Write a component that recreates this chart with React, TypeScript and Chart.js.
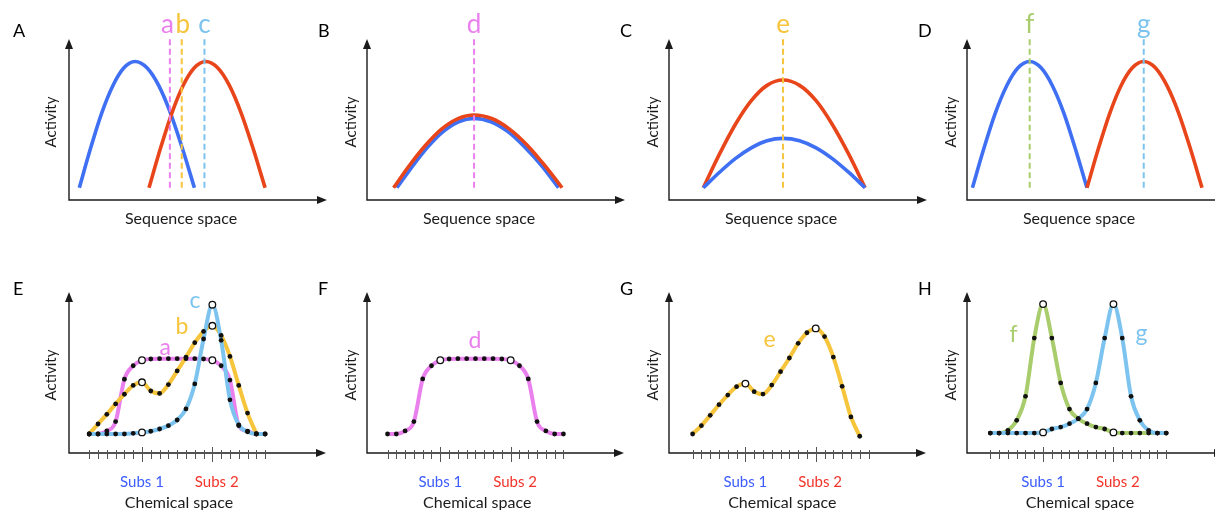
import React, { useEffect, useRef } from 'react';
import Chart from 'chart.js/auto';

const FONT = 'Lato, "Open Sans", "DejaVu Sans", sans-serif';
const INK = '#1b1b1b';

const BLUE = '#3f6ff2';
const RED = '#e8451a';
const PINK = '#ea80ee';
const GOLD = '#f6c53c';
const SKY = '#7cc4ef';
const LIME = '#a9cd6c';
const SUBS1 = '#3c5cff';
const SUBS2 = '#f2342b';

// ---- Sequence space (top row): x 0-100 along the axis, y 0-100 up the axis ----
const archTall = [7.6, 31.8, 53.7, 71.0, 82.1, 86.0, 82.1, 71.0, 53.7, 31.8, 7.6];

const seqA_blueX = [4.0, 8.3, 12.6, 17.0, 21.3, 25.6, 30.2, 34.8, 39.4, 44.0, 48.6];
const seqA_redX = [31.0, 35.4, 39.8, 44.2, 48.6, 53.0, 57.6, 62.2, 66.8, 71.4, 76.0];
const seqA_marks = [39.1, 43.7, 52.5];

const seqB_blueX = [11.6, 17.6, 23.6, 29.5, 35.5, 41.5, 48.0, 54.6, 61.1, 67.9, 74.2];
const seqB_blueY = [7.6, 20.9, 33.0, 42.5, 48.6, 50.7, 48.6, 42.5, 33.0, 20.9, 7.6];
const seqB_redX = [10.3, 16.5, 22.8, 29.0, 35.3, 41.5, 48.3, 55.1, 62.0, 68.8, 75.6];
const seqB_redY = [7.6, 21.6, 34.2, 44.2, 50.6, 52.8, 50.6, 44.2, 34.2, 21.6, 7.6];
const seqB_marks = [41.5];

const seqC_x = [13.3, 19.5, 25.7, 31.9, 38.0, 44.2, 50.6, 57.0, 63.3, 69.7, 76.0];
const seqC_redY = [7.6, 28.3, 46.9, 61.7, 71.2, 74.5, 71.2, 61.7, 46.9, 28.3, 7.6];
const seqC_blueY = [7.6, 17.1, 25.7, 32.4, 36.8, 38.3, 36.8, 32.4, 25.7, 17.1, 7.6];
const seqC_marks = [44.2];

const seqD_blueX = [2.1, 6.5, 10.9, 15.4, 19.8, 24.3, 28.7, 33.1, 37.6, 42.0, 46.5];
const seqD_redX = [46.5, 50.9, 55.3, 59.7, 64.1, 68.5, 73.0, 77.5, 82.1, 86.6, 91.1];
const seqD_marks = [24.3, 68.5];

const markSpan = [7.6, 100];

// ---- Chemical space (bottom row): activity on 21 sampled substrates ----
const substrates = [0, 1, 2, 3, 4, 5, 6, 7, 8, 9, 10, 11, 12, 13, 14, 15, 16, 17, 18, 19, 20];
const substrateAt = [6, 14];
const substrateNames = ['Subs 1', 'Subs 2'];

const chemE_a = [11.8, 11.8, 13.7, 19.5, 45.8, 54.2, 57.6, 58.4, 58.6, 58.6, 58.6, 58.6, 58.6, 58.4, 57.6, 54.2, 45.3, 17.0, 13.5, 11.8, 11.8];
const chemE_b = [11.8, 18.0, 24.0, 30.5, 36.5, 42.0, 43.9, 38.5, 37.0, 42.5, 51.0, 59.5, 68.5, 75.5, 79.0, 73.0, 60.0, 42.0, 24.8, 12.0];
const chemE_c = [11.8, 11.8, 11.8, 11.8, 11.8, 12.2, 12.8, 13.5, 14.9, 17.0, 20.5, 27.4, 42.9, 70.8, 92.1, 70.0, 33.0, 17.5, 13.2, 11.8, 11.8];
const chemF_d = [11.8, 11.8, 13.7, 19.5, 46.0, 54.2, 57.6, 58.4, 58.6, 58.6, 58.6, 58.6, 58.6, 58.4, 57.6, 54.2, 46.0, 19.5, 13.7, 11.8, 11.8];
const chemG_e = [11.8, 17.0, 23.4, 30.0, 36.0, 41.2, 43.1, 38.1, 36.6, 42.2, 50.5, 59.0, 68.1, 74.7, 77.4, 72.3, 59.6, 41.4, 22.4, 10.4];
const chemH_f = [12.4, 12.4, 14.1, 20.3, 35.2, 71.4, 92.5, 71.4, 43.5, 27.3, 21.3, 18.2, 16.1, 14.9, 12.8, 12.4, 12.4, 12.4, 12.4, 12.4, 12.4];
const chemH_g = [12.4, 12.4, 12.4, 12.4, 12.4, 12.4, 12.8, 14.9, 16.1, 18.2, 21.3, 27.3, 43.5, 71.4, 92.5, 71.4, 35.2, 20.3, 14.1, 12.4, 12.4];

type Curve = { x?: number[]; y: number[]; color: string };
type Mark = { x: number; name: string; color: string; dx?: number };
type Tag = { x: number; y: number; name: string; color: string };
type Panel = {
    letter: string;
    col: number;
    row: number;
    xMin: number;
    xMax: number;
    curves: Curve[];
    marks: Mark[];
    tags: Tag[];
};

// layout (pixels)
const AXIS_X = [69, 367, 669, 967];
const AXIS_LEN = 258;
const CANVAS_W = 330;
const ROW_TOP = [0, 253];
const ROW_H = [253, 257];
const PAD_TOP = 39;
const TICK_STEP = 8.83;

const chemRange = (firstTickOffset: number) => {
    const min = -firstTickOffset / TICK_STEP;
    return { xMin: min, xMax: min + AXIS_LEN / TICK_STEP };
};

const panels: Panel[] = [
    {
        letter: 'A', col: 0, row: 0, xMin: 0, xMax: 100,
        curves: [
            { x: seqA_blueX, y: archTall, color: BLUE },
            { x: seqA_redX, y: archTall, color: RED },
        ],
        marks: [
            { x: seqA_marks[0], name: 'a', color: PINK, dx: -2.5 },
            { x: seqA_marks[1], name: 'b', color: GOLD, dx: 1 },
            { x: seqA_marks[2], name: 'c', color: SKY },
        ],
        tags: [],
    },
    {
        letter: 'B', col: 1, row: 0, xMin: 0, xMax: 100,
        curves: [
            { x: seqB_blueX, y: seqB_blueY, color: BLUE },
            { x: seqB_redX, y: seqB_redY, color: RED },
        ],
        marks: [{ x: seqB_marks[0], name: 'd', color: PINK }],
        tags: [],
    },
    {
        letter: 'C', col: 2, row: 0, xMin: 0, xMax: 100,
        curves: [
            { x: seqC_x, y: seqC_redY, color: RED },
            { x: seqC_x, y: seqC_blueY, color: BLUE },
        ],
        marks: [{ x: seqC_marks[0], name: 'e', color: GOLD }],
        tags: [],
    },
    {
        letter: 'D', col: 3, row: 0, xMin: 0, xMax: 100,
        curves: [
            { x: seqD_blueX, y: archTall, color: BLUE },
            { x: seqD_redX, y: archTall, color: RED },
        ],
        marks: [
            { x: seqD_marks[0], name: 'f', color: LIME },
            { x: seqD_marks[1], name: 'g', color: SKY },
        ],
        tags: [],
    },
    {
        letter: 'E', col: 0, row: 1, ...chemRange(20.3),
        curves: [
            { y: chemE_a, color: PINK },
            { y: chemE_b, color: GOLD },
            { y: chemE_c, color: SKY },
        ],
        marks: [],
        tags: [
            { x: 8.63, y: 60.8, name: 'a', color: PINK },
            { x: 10.55, y: 74.1, name: 'b', color: GOLD },
            { x: 12.02, y: 90.0, name: 'c', color: SKY },
        ],
    },
    {
        letter: 'F', col: 1, row: 1, ...chemRange(20.6),
        curves: [{ y: chemF_d, color: PINK }],
        marks: [],
        tags: [{ x: 9.93, y: 65.2, name: 'd', color: PINK }],
    },
    {
        letter: 'G', col: 2, row: 1, ...chemRange(23.7),
        curves: [{ y: chemG_e, color: GOLD }],
        marks: [],
        tags: [{ x: 8.75, y: 65.6, name: 'e', color: GOLD }],
    },
    {
        letter: 'H', col: 3, row: 1, ...chemRange(23.4),
        curves: [
            { y: chemH_f, color: LIME },
            { y: chemH_g, color: SKY },
        ],
        marks: [],
        tags: [
            { x: 2.64, y: 69.1, name: 'f', color: LIME },
            { x: 17.2, y: 69.7, name: 'g', color: SKY },
        ],
    },
];

const isOpen = (i: number) => substrateAt.includes(i);

const buildDatasets = (p: Panel) => {
    const ds: any[] = [];
    p.curves.forEach((c, k) => {
        const pts = c.y.map((y, i) => ({ x: c.x ? c.x[i] : substrates[i], y }));
        ds.push({
            data: pts,
            borderColor: c.color,
            borderWidth: p.row === 0 ? 3.6 : 4,
            pointRadius: 0,
            cubicInterpolationMode: 'monotone',
            fill: false,
            order: 20 - k,
        });
        if (p.row === 1) {
            ds.push({
                data: pts,
                showLine: false,
                pointRadius: (ctx: any) => (isOpen(ctx.dataIndex) ? 3.3 : 2.4),
                pointBackgroundColor: (ctx: any) => (isOpen(ctx.dataIndex) ? '#ffffff' : '#111111'),
                pointBorderColor: '#111111',
                pointBorderWidth: (ctx: any) => (isOpen(ctx.dataIndex) ? 1.3 : 0),
                order: 0,
            });
        }
    });
    p.marks.forEach(m => {
        ds.push({
            data: [{ x: m.x, y: markSpan[0] }, { x: m.x, y: markSpan[1] }],
            borderColor: m.color,
            borderWidth: 2,
            borderDash: [6, 3.5],
            pointRadius: 0,
            order: 1,
        });
    });
    return ds;
};

const decorPlugin = (p: Panel) => ({
    id: 'decor',
    beforeDatasetsDraw(chart: any) {
        const { ctx, chartArea: a, scales } = chart;
        ctx.save();
        ctx.strokeStyle = INK;
        ctx.fillStyle = INK;
        ctx.lineWidth = 1.4;
        ctx.beginPath();
        ctx.moveTo(a.left, a.top + 8);
        ctx.lineTo(a.left, a.bottom);
        ctx.lineTo(a.right - 8, a.bottom);
        ctx.stroke();
        ctx.beginPath();
        ctx.moveTo(a.left, a.top);
        ctx.lineTo(a.left - 4, a.top + 10);
        ctx.lineTo(a.left + 4, a.top + 10);
        ctx.closePath();
        ctx.fill();
        ctx.beginPath();
        ctx.moveTo(a.right, a.bottom);
        ctx.lineTo(a.right - 10, a.bottom - 4);
        ctx.lineTo(a.right - 10, a.bottom + 4);
        ctx.closePath();
        ctx.fill();

        if (p.row === 1) {
            ctx.strokeStyle = '#555555';
            ctx.lineWidth = 1;
            substrates.forEach(i => {
                const px = Math.round(scales.x.getPixelForValue(i)) + 0.5;
                const major = isOpen(i);
                ctx.beginPath();
                ctx.moveTo(px, a.bottom - (major ? 6 : 3));
                ctx.lineTo(px, a.bottom + (major ? 9 : 6));
                ctx.stroke();
            });
        }
        ctx.restore();
    },
    afterDatasetsDraw(chart: any) {
        const { ctx, chartArea: a, scales } = chart;
        ctx.save();
        ctx.fillStyle = '#000000';
        ctx.textAlign = 'left';
        ctx.textBaseline = 'alphabetic';
        ctx.font = `18px ${FONT}`;
        ctx.fillText(p.letter, a.left - (p.col === 0 ? 56 : 49), p.row === 0 ? a.top - 2 : a.top + 3);

        // axis titles
        ctx.fillStyle = INK;
        ctx.font = `16px ${FONT}`;
        ctx.textAlign = 'center';
        if (p.row === 0) {
            ctx.fillText('Sequence space', a.left + 112, a.bottom + 24);
        } else {
            ctx.fillText('Chemical space', scales.x.getPixelForValue(10.2), a.bottom + 55);
            ctx.font = `15px ${FONT}`;
            ctx.fillStyle = SUBS1;
            ctx.fillText(substrateNames[0], scales.x.getPixelForValue(substrateAt[0]), a.bottom + 34);
            ctx.fillStyle = SUBS2;
            ctx.fillText(substrateNames[1], scales.x.getPixelForValue(substrateAt[1] + 0.5), a.bottom + 34);
        }
        ctx.save();
        ctx.fillStyle = INK;
        ctx.font = `15px ${FONT}`;
        ctx.translate(a.left - (p.col === 0 ? 18 : 16), a.top + 83);
        ctx.rotate(-Math.PI / 2);
        ctx.textBaseline = 'middle';
        ctx.fillText('Activity', 0, 0);
        ctx.restore();

        // variant names
        ctx.textBaseline = 'alphabetic';
        ctx.font = `26px ${FONT}`;
        p.marks.forEach(m => {
            ctx.fillStyle = m.color;
            ctx.fillText(m.name, scales.x.getPixelForValue(m.x) + (m.dx || 0), a.top - 6);
        });
        ctx.font = `23px ${FONT}`;
        p.tags.forEach(t => {
            ctx.fillStyle = t.color;
            ctx.fillText(t.name, scales.x.getPixelForValue(t.x), scales.y.getPixelForValue(t.y));
        });
        ctx.restore();
    },
});

function PanelChart({ p }: { p: Panel }) {
    const chartRef = useRef<HTMLCanvasElement | null>(null);
    const height = ROW_H[p.row];

    useEffect(() => {
        let chartInstance: Chart | null = null;
        if (chartRef.current) {
            chartInstance = new Chart(chartRef.current, {
                type: 'line',
                data: { datasets: buildDatasets(p) },
                options: {
                    responsive: false,
                    animation: false,
                    events: [],
                    layout: {
                        padding: {
                            left: AXIS_X[0],
                            top: PAD_TOP,
                            right: CANVAS_W - AXIS_X[0] - AXIS_LEN,
                            bottom: height - PAD_TOP - 161,
                        },
                    },
                    scales: {
                        x: { type: 'linear', display: false, min: p.xMin, max: p.xMax },
                        y: { type: 'linear', display: false, min: 0, max: 100 },
                    },
                    plugins: { legend: { display: false }, tooltip: { enabled: false } },
                },
                plugins: [decorPlugin(p)],
            } as any);
        }
        return () => {
            if (chartInstance) chartInstance.destroy();
        };
    }, [p, height]);

    return (
        <canvas
            ref={chartRef}
            width={CANVAS_W}
            height={height}
            style={{ position: 'absolute', left: AXIS_X[p.col] - AXIS_X[0], top: ROW_TOP[p.row] }}
        />
    );
}

export default function App() {
    return (
        <div style={{ position: 'fixed', left: 0, top: 0, width: 1215, height: 510, overflow: 'hidden', background: '#ffffff' }}>
            {panels.map(p => (
                <PanelChart key={p.letter} p={p} />
            ))}
        </div>
    );
}
